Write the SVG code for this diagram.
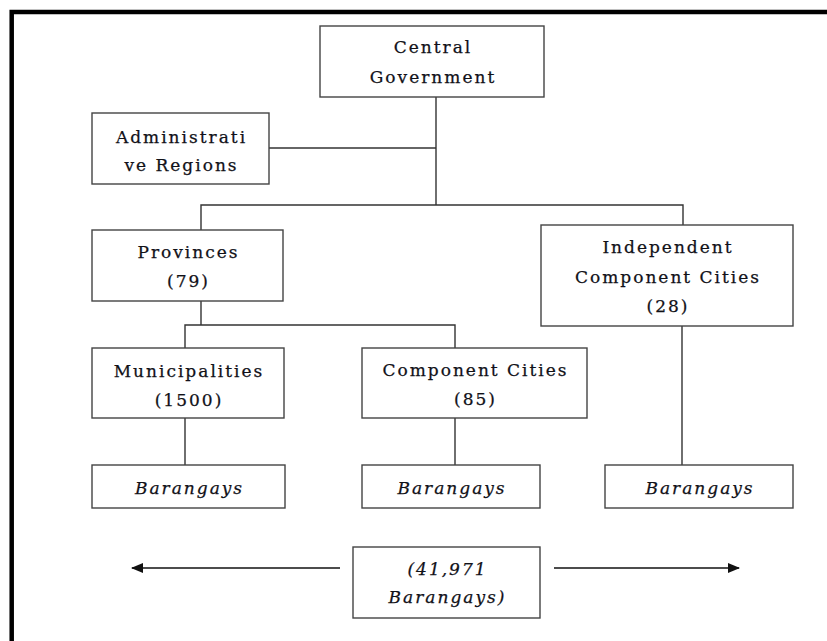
<svg xmlns="http://www.w3.org/2000/svg" width="827" height="641" viewBox="0 0 827 641">
  <style>
    .box { fill: #ffffff; stroke: #444444; stroke-width: 1.4; }
    .wire { fill: none; stroke: #333333; stroke-width: 1.4; }
    .arrow { fill: none; stroke: #111111; stroke-width: 1.6; }
    text { font-family: "DejaVu Serif", "Liberation Serif", serif; font-size: 17px; fill: #111118; stroke: #111118; stroke-width: 0.25; text-anchor: middle; letter-spacing: 2px; }
    .it { font-style: italic; }
  </style>
  <defs>
    <marker id="tip" viewBox="0 0 12 10" refX="11" refY="5" markerWidth="12" markerHeight="10" markerUnits="userSpaceOnUse" orient="auto">
      <path d="M0,0 L12,5 L0,10 Z" fill="#111111"/>
    </marker>
  </defs>
  <rect width="827" height="641" fill="#ffffff"/>
  <!-- page frame -->
  <path d="M11.7,641 V12 H827" fill="none" stroke="#000000" stroke-width="4.5"/>

  <g id="connectors">
    <path class="wire" d="M436,97 V205"/>
    <path class="wire" d="M269,148 H436"/>
    <path class="wire" d="M201,230 V205 H683 V225"/>
    <path class="wire" d="M201,301 V325"/>
    <path class="wire" d="M185,348 V325 H455 V348"/>
    <path class="wire" d="M185,418 V465"/>
    <path class="wire" d="M455,418 V465"/>
    <path class="wire" d="M682,326 V465"/>
    <path class="arrow" d="M340,568 H132" marker-end="url(#tip)"/>
    <path class="arrow" d="M554,568 H739" marker-end="url(#tip)"/>
  </g>

  <g id="central-government">
    <rect class="box" x="320" y="26" width="224" height="71"/>
    <text x="433" y="53">Central</text>
    <text x="433" y="83">Government</text>
  </g>
  <g id="administrative-regions">
    <rect class="box" x="92" y="113" width="177" height="71"/>
    <text x="181.5" y="143">Administrati</text>
    <text x="181.5" y="171">ve Regions</text>
  </g>
  <g id="provinces">
    <rect class="box" x="92" y="230" width="191" height="71"/>
    <text x="188.5" y="258">Provinces</text>
    <text x="188.5" y="287">(79)</text>
  </g>
  <g id="independent-component-cities">
    <rect class="box" x="541" y="225" width="252" height="101"/>
    <text x="668" y="253">Independent</text>
    <text x="668" y="283">Component Cities</text>
    <text x="668" y="312">(28)</text>
  </g>
  <g id="municipalities">
    <rect class="box" x="92" y="348" width="192" height="70"/>
    <text x="189" y="377">Municipalities</text>
    <text x="189" y="406">(1500)</text>
  </g>
  <g id="component-cities">
    <rect class="box" x="362" y="348" width="225" height="70"/>
    <text x="475.5" y="376">Component Cities</text>
    <text x="475.5" y="405">(85)</text>
  </g>
  <g id="barangays-municipalities">
    <rect class="box" x="92" y="465" width="193" height="43"/>
    <text class="it" x="189.5" y="494">Barangays</text>
  </g>
  <g id="barangays-component-cities">
    <rect class="box" x="362" y="465" width="178" height="43"/>
    <text class="it" x="452" y="494">Barangays</text>
  </g>
  <g id="barangays-independent-cities">
    <rect class="box" x="605" y="465" width="188" height="43"/>
    <text class="it" x="700" y="494">Barangays</text>
  </g>
  <g id="barangays-total">
    <rect class="box" x="353" y="547" width="187" height="71"/>
    <text class="it" x="447.5" y="575">(41,971</text>
    <text class="it" x="447.5" y="603">Barangays)</text>
  </g>
</svg>
